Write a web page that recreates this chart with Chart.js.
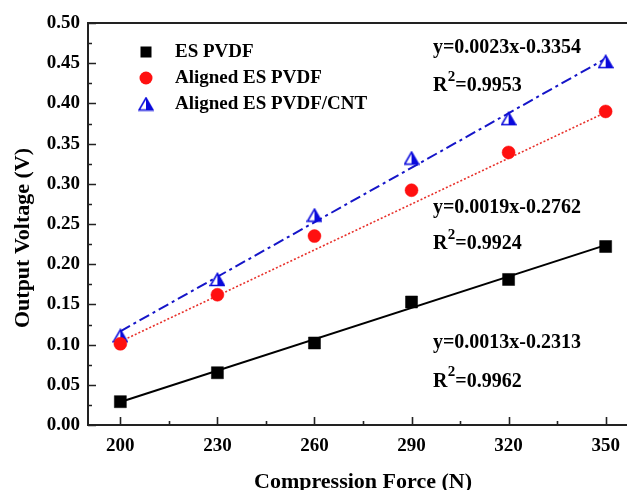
<!DOCTYPE html>
<html>
<head>
<meta charset="utf-8">
<script src="https://cdn.jsdelivr.net/npm/chart.js@4/dist/chart.umd.min.js"></script>
<style>
  html, body { margin: 0; padding: 0; background: #fff; overflow: hidden; width: 627px; height: 490px; }
  canvas { display: block; }
</style>
</head>
<body>
<canvas id="chart" width="650" height="500"></canvas>
<script>
// Compression force (N) and measured output voltage (V) for each film
const forces = [200, 230, 260, 290, 320, 350];
const esPvdf = [0.029, 0.065, 0.102, 0.153, 0.181, 0.222];
const alignedPvdf = [0.101, 0.162, 0.235, 0.292, 0.339, 0.390];
const alignedPvdfCnt = [0.111, 0.181, 0.261, 0.332, 0.381, 0.452];

const seriesNames = ['ES PVDF', 'Aligned ES PVDF', 'Aligned ES PVDF/CNT'];

// linear fits: slope, intercept and R² for each film
const fitSlopes = [0.0013, 0.0019, 0.00226];
const fitIntercepts = [-0.2313, -0.2762, -0.3354];
const fitR2 = [0.9962, 0.9924, 0.9953];

const xTicks = [200, 230, 260, 290, 320, 350];
const xMinorTicks = [215, 245, 275, 305, 335];
const yTicks = [0.00, 0.05, 0.10, 0.15, 0.20, 0.25, 0.30, 0.35, 0.40, 0.45, 0.50];
const yMinorTicks = [0.025, 0.075, 0.125, 0.175, 0.225, 0.275, 0.325, 0.375, 0.425, 0.475];

const SERIF = "'Liberation Serif', 'Times New Roman', serif";

// straight fit line over the measured force range
function fitLine(i) {
  const x0 = forces[0], x1 = forces[forces.length - 1];
  return [
    { x: x0, y: fitSlopes[i] * x0 + fitIntercepts[i] },
    { x: x1, y: fitSlopes[i] * x1 + fitIntercepts[i] }
  ];
}
const equationText = i => {
  const b = fitIntercepts[i];
  return `y=${fitSlopes[i].toFixed(4)}x${b < 0 ? '-' : '+'}${Math.abs(b).toFixed(4)}`;
};

const pts = ys => forces.map((x, i) => ({ x, y: ys[i] }));

// half-filled triangle marker (outline on the left, solid on the right)
function halfTriangle() {
  const c = document.createElement('canvas');
  c.width = 16; c.height = 15;
  const g = c.getContext('2d');
  g.beginPath(); g.moveTo(8, 1.5); g.lineTo(15, 13.5); g.lineTo(1, 13.5); g.closePath();
  g.fillStyle = '#fff'; g.fill();
  g.beginPath(); g.moveTo(8, 1.5); g.lineTo(15, 13.5); g.lineTo(8, 13.5); g.closePath();
  g.fillStyle = '#0a0adc'; g.fill();
  g.beginPath(); g.moveTo(8, 1.5); g.lineTo(15, 13.5); g.lineTo(1, 13.5); g.closePath();
  g.strokeStyle = '#0a0adc'; g.lineWidth = 1.6; g.stroke();
  return c;
}
const triImg = halfTriangle();

const markers = [
  { style: 'rect', radius: 8.5, color: '#000000' },
  { style: 'circle', radius: 6.5, color: '#ff1010' },
  { style: triImg, radius: 7, color: '#0a0adc' }
];

// inward tick marks and the top frame line
const frameTicks = {
  id: 'frameTicks',
  afterDraw(chart) {
    const { ctx, chartArea: a, scales: { x, y } } = chart;
    ctx.save();
    ctx.strokeStyle = '#222';
    ctx.lineWidth = 2;
    ctx.beginPath();
    ctx.moveTo(a.left - 1, a.top); ctx.lineTo(chart.width, a.top);
    ctx.stroke();
    ctx.lineWidth = 1.6;
    ctx.beginPath();
    yTicks.forEach(v => { const p = Math.round(y.getPixelForValue(v)) + 0.5; ctx.moveTo(a.left, p); ctx.lineTo(a.left + 8, p); });
    yMinorTicks.forEach(v => { const p = Math.round(y.getPixelForValue(v)) + 0.5; ctx.moveTo(a.left, p); ctx.lineTo(a.left + 4, p); });
    xTicks.forEach(v => { const p = Math.round(x.getPixelForValue(v)) + 0.5; ctx.moveTo(p, a.bottom); ctx.lineTo(p, a.bottom - 8); });
    xMinorTicks.forEach(v => { const p = Math.round(x.getPixelForValue(v)) + 0.5; ctx.moveTo(p, a.bottom); ctx.lineTo(p, a.bottom - 4); });
    ctx.stroke();
    ctx.restore();
  }
};

// legend inside the plot, upper left
const innerLegend = {
  id: 'innerLegend',
  afterDraw(chart) {
    const { ctx, chartArea: a } = chart;
    ctx.save();
    ctx.font = `bold 19px ${SERIF}`;
    ctx.textBaseline = 'middle';
    ctx.fillStyle = '#000';
    const mx = a.left + 58, tx = a.left + 87;
    const rows = [a.top + 29, a.top + 55, a.top + 81];
    seriesNames.forEach((name, i) => {
      const yy = rows[i], m = markers[i];
      if (m.style === 'rect') {
        ctx.fillStyle = m.color; ctx.fillRect(mx - 5.5, yy - 5.5, 11, 11);
      } else if (m.style === 'circle') {
        ctx.fillStyle = m.color; ctx.beginPath(); ctx.arc(mx, yy, 6.5, 0, Math.PI * 2); ctx.fill();
      } else {
        ctx.drawImage(m.style, mx - m.style.width / 2, yy - m.style.height / 2);
      }
      ctx.fillStyle = '#000';
      ctx.fillText(name, tx, yy);
    });
    ctx.restore();
  }
};

// regression equations and R² values, placed in data coordinates
const eqPositions = [
  { x: 296.6, yEq: 0.1020, yR: 0.0540 },
  { x: 296.6, yEq: 0.2700, yR: 0.2250 },
  { x: 296.6, yEq: 0.4690, yR: 0.4220 }
];
const equations = {
  id: 'equations',
  afterDraw(chart) {
    const { ctx, scales: { x, y } } = chart;
    ctx.save();
    ctx.fillStyle = '#000';
    ctx.textBaseline = 'middle';
    eqPositions.forEach((p, i) => {
      const px = x.getPixelForValue(p.x);
      ctx.font = `bold 20px ${SERIF}`;
      ctx.fillText(equationText(i), px, y.getPixelForValue(p.yEq));
      const ry = y.getPixelForValue(p.yR);
      ctx.fillText('R', px, ry);
      let w = ctx.measureText('R').width;
      ctx.font = `bold 15px ${SERIF}`;
      ctx.fillText('2', px + w + 0.5, ry - 9);
      w += ctx.measureText('2').width + 0.5;
      ctx.font = `bold 20px ${SERIF}`;
      ctx.fillText('=' + fitR2[i].toFixed(4), px + w, ry);
    });
    ctx.restore();
  }
};

// vertical axis title
const yTitle = {
  id: 'yTitle',
  afterDraw(chart) {
    const { ctx } = chart;
    ctx.save();
    ctx.translate(23, 238);
    ctx.rotate(-Math.PI / 2);
    ctx.font = `bold 22px ${SERIF}`;
    ctx.fillStyle = '#000';
    ctx.textAlign = 'center';
    ctx.textBaseline = 'middle';
    ctx.fillText('Output Voltage (V)', 0, 0);
    ctx.restore();
  }
};

const lineStyles = [
  { color: '#000000', width: 2, dash: [] },
  { color: '#e8302a', width: 1.6, dash: [2, 2] },
  { color: '#1515c8', width: 2, dash: [11, 4, 3, 4] }
];
const seriesData = [esPvdf, alignedPvdf, alignedPvdfCnt];

const datasets = [];
seriesData.forEach((ys, i) => {
  datasets.push({
    label: seriesNames[i] + ' fit',
    data: fitLine(i),
    showLine: true,
    borderColor: lineStyles[i].color,
    borderWidth: lineStyles[i].width,
    borderDash: lineStyles[i].dash,
    pointRadius: 0,
    order: 2
  });
});
seriesData.forEach((ys, i) => {
  datasets.push({
    label: seriesNames[i],
    data: pts(ys),
    showLine: false,
    pointStyle: markers[i].style,
    pointRadius: markers[i].radius,
    backgroundColor: markers[i].color,
    borderColor: markers[i].color,
    borderWidth: 0.5,
    order: 1
  });
});

const tickFont = { family: SERIF, size: 19, weight: 'bold' };

new Chart(document.getElementById('chart'), {
  type: 'scatter',
  data: { datasets },
  options: {
    responsive: false,
    animation: false,
    layout: { padding: { top: 23, right: 12, left: 0, bottom: 0 } },
    plugins: { legend: { display: false }, tooltip: { enabled: false } },
    scales: {
      x: {
        type: 'linear', min: 190, max: 360,
        afterBuildTicks: s => { s.ticks = xTicks.map(v => ({ value: v })); },
        afterFit: s => { s.height = 75; },
        grid: { display: false, drawTicks: false },
        border: { display: true, color: '#222', width: 2 },
        ticks: { font: tickFont, color: '#000', padding: 10, maxRotation: 0, callback: v => String(v) },
        title: { display: true, text: 'Compression Force (N)', color: '#000',
                 font: { family: SERIF, size: 22, weight: 'bold' }, padding: { top: 0, bottom: 4 } }
      },
      y: {
        type: 'linear', min: 0, max: 0.5,
        afterBuildTicks: s => { s.ticks = yTicks.map(v => ({ value: v })); },
        afterFit: s => { s.width = 88; },
        grid: { display: false, drawTicks: false },
        border: { display: true, color: '#222', width: 2 },
        ticks: { font: tickFont, color: '#000', padding: 8, callback: v => v.toFixed(2) }
      }
    }
  },
  plugins: [frameTicks, innerLegend, equations, yTitle]
});
</script>
</body>
</html>
